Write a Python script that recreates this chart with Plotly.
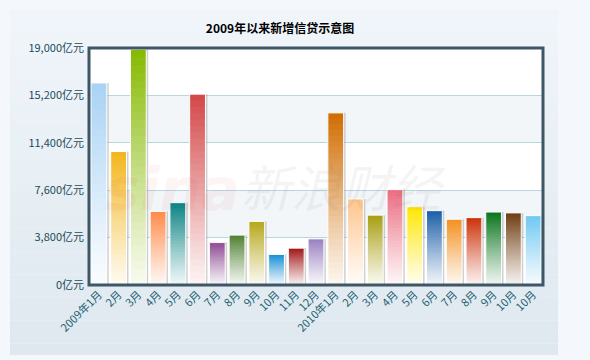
import plotly.graph_objects as go

# ---- data ----
month_labels = ["2009年1月", "2月", "3月", "4月", "5月", "6月", "7月", "8月", "9月", "10月", "11月", "12月",
                "2010年1月", "2月", "3月", "4月", "5月", "6月", "7月", "8月", "9月", "10月", "10月"]
new_loans = [16200, 10700, 18900, 5900, 6600, 15300, 3400, 4000, 5100, 2450, 2950, 3700,
             13800, 6900, 5600, 7650, 6280, 5960, 5270, 5400, 5850, 5780, 5560]
bar_colors = ["#a8d2f4", "#f2b61a", "#86b900", "#ff8a48", "#0a8282", "#d44646", "#8e4a92", "#4f8030",
              "#b6a61a", "#1890d8", "#a01616", "#9880c0", "#d06c00", "#ffc48c", "#a89e10", "#ea6c80",
              "#ffe600", "#1a5ea8", "#f29020", "#cc3008", "#08741c", "#6e3c10", "#6ec8f2"]
y_ticks = [0, 3800, 7600, 11400, 15200, 19000]
y_tick_text = ["0亿元", "3,800亿元", "7,600亿元", "11,400亿元", "15,200亿元", "19,000亿元"]
title_text = "2009年以来新增信贷示意图"

FONT = "Noto Sans CJK SC"
xs = list(range(len(new_loans)))


def hex_rgb(h):
    h = h.lstrip("#")
    return tuple(int(h[i:i + 2], 16) for i in (0, 2, 4))


def blend(c, t):
    r, g, b = hex_rgb(c)
    w = 255
    return "rgb(%d,%d,%d)" % (round(w + (r - w) * t), round(w + (g - w) * t), round(w + (b - w) * t))


fig = go.Figure()

# shadow
fig.add_trace(go.Bar(x=xs, y=new_loans, width=0.8, offset=-0.3,
                     marker=dict(color="rgba(150,150,150,0.45)", line=dict(width=0)),
                     hoverinfo="skip", showlegend=False))

# gradient bars built from stacked, slightly overlapping segments
N = 30
for k in range(N):
    t = 0.06 + 0.94 * ((k + 0.5) / N) ** 1.1
    bases = [v * k / N for v in new_loans]
    heights = [min(v / N * 1.8, v - b) for v, b in zip(new_loans, bases)]
    fig.add_trace(go.Bar(
        x=xs, y=heights, base=bases,
        width=0.8, marker=dict(color=[blend(c, t) for c in bar_colors], line=dict(width=0)),
        hoverinfo="skip", showlegend=False))

# outline
fig.add_trace(go.Bar(x=xs, y=new_loans, width=0.8,
                     marker=dict(color="rgba(0,0,0,0)", line=dict(color="white", width=1)),
                     showlegend=False))

shapes = []
# outer panel gradient
steps = 30
for i in range(steps):
    f = i / steps
    c0 = (240, 245, 250)
    c1 = (222, 232, 239)
    c = tuple(round(c0[j] + (c1[j] - c0[j]) * f) for j in range(3))
    shapes.append(dict(type="rect", xref="paper", yref="paper", layer="below",
                       x0=-79 / 454, x1=(558 - 89) / 454,
                       y0=1 + (48 - 10 - (345 * (i + 1) / steps)) / 237,
                       y1=1 + (48 - 10 - (345 * i / steps)) / 237,
                       fillcolor="rgb(%d,%d,%d)" % c, line=dict(width=0)))
# plot area background + bands
shapes.append(dict(type="rect", xref="paper", yref="paper", layer="below", x0=0, x1=1, y0=0, y1=1,
                   fillcolor="white", line=dict(width=0)))
for lo, hi in [(y_ticks[1], y_ticks[2]), (y_ticks[3], y_ticks[4])]:
    shapes.append(dict(type="rect", xref="paper", yref="y", layer="below", x0=0, x1=1, y0=lo, y1=hi,
                       fillcolor="#f2f6f9", line=dict(width=0)))
# frame
shapes.append(dict(type="rect", xref="paper", yref="paper", layer="above", x0=0, x1=1, y0=0, y1=1,
                   line=dict(color="#3e5767", width=3)))

annotations = [
    dict(text="<b><i>sina</i></b>", xref="paper", yref="paper", x=0.03, y=0.40, showarrow=False,
         font=dict(family="DejaVu Sans", size=58, color="rgba(220,60,60,0.06)"), xanchor="left", yanchor="middle"),
    dict(text="<i>新浪财经</i>", xref="paper", yref="paper", x=0.33, y=0.42, showarrow=False,
         font=dict(family=FONT, size=50, color="rgba(120,120,120,0.08)"), xanchor="left", yanchor="middle"),
]

fig.update_layout(
    width=590, height=360,
    margin=dict(l=89, r=47, t=48, b=75),
    paper_bgcolor="#f4f7fb", plot_bgcolor="rgba(0,0,0,0)",
    barmode="overlay", bargap=0.2,
    title=dict(text="<b>" + title_text + "</b>", x=280 / 590, xanchor="center", y=1 - 29 / 360, yanchor="middle",
               font=dict(family=FONT, size=12, color="#000000")),
    xaxis=dict(tickmode="array", tickvals=xs, ticktext=month_labels, tickangle=-45,
               range=[-0.5, len(xs) - 0.5], showgrid=False, zeroline=False, ticks="",
               tickfont=dict(family=FONT, size=11, color="#1d6272")),
    yaxis=dict(tickmode="array", tickvals=y_ticks, ticktext=y_tick_text, range=[0, 19000],
               showgrid=True, gridcolor="#b7d6dd", gridwidth=1, zeroline=False, ticks="",
               tickfont=dict(family=FONT, size=11, color="#1d4a5a"), ticklabelstandoff=4),
    shapes=shapes, annotations=annotations,
    font=dict(family=FONT),
)

fig.write_html("out.html", config={"displayModeBar": False},
               post_script="document.body.style.margin='0';document.body.style.overflow='hidden';")
